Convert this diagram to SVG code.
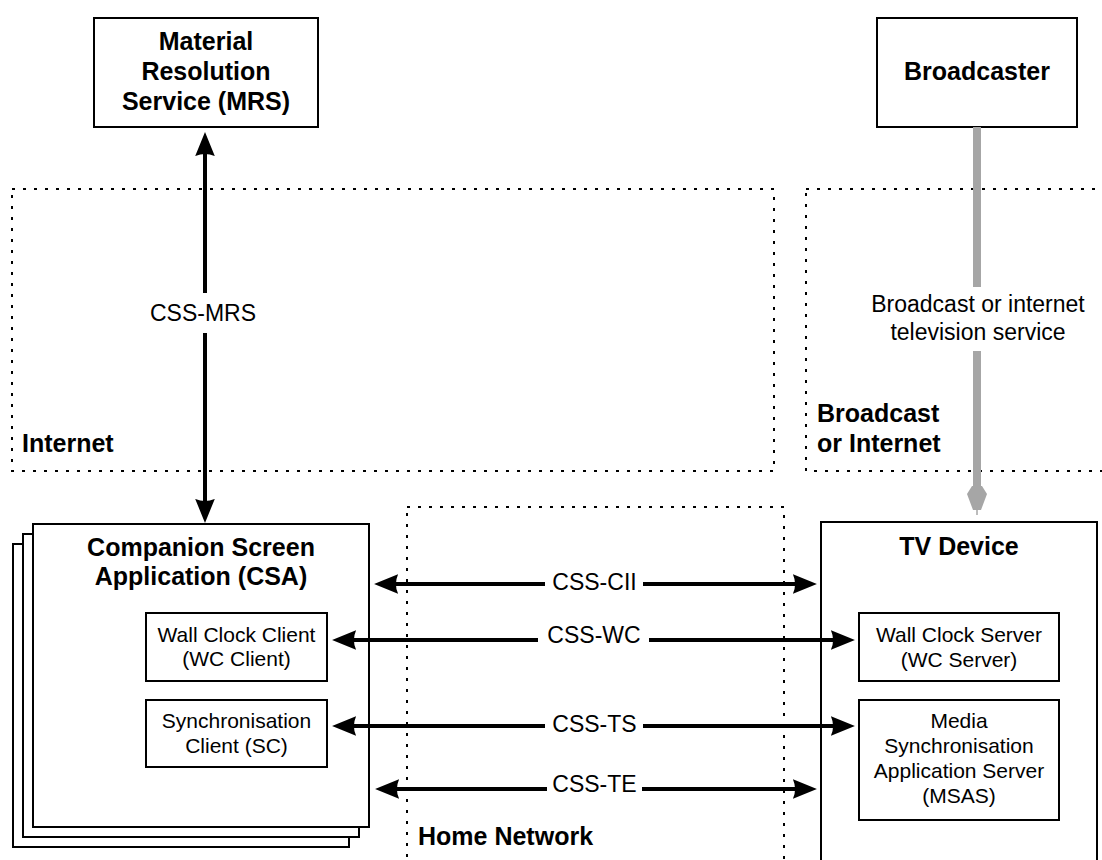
<svg xmlns="http://www.w3.org/2000/svg" width="1102" height="860" viewBox="0 0 1102 860">
<style>
  .box { fill: #fff; stroke: #000; stroke-width: 2; }
  .zone { fill: none; stroke: #000; stroke-width: 2; stroke-dasharray: 3 8; }
  .t { font-family: "Liberation Sans", Arial, Helvetica, sans-serif; fill: #000; }
  .title { font-size: 25px; font-weight: bold; }
  .small { font-size: 21px; }
  .lbl { font-size: 23px; }
  .mid { text-anchor: middle; }
  .conn { stroke: #000; stroke-width: 4; fill: none; }
  .gap { fill: #fff; stroke: none; }
</style>
<defs>
  <marker id="ah" markerUnits="userSpaceOnUse" markerWidth="24" markerHeight="20" viewBox="0 0 22 18" refX="12" refY="9" orient="auto-start-reverse">
    <path d="M0,0 L22,9 L0,18 Q4,9 0,0 z" fill="#000"/>
  </marker>
</defs>

<g id="zones">
  <rect id="zone-internet" class="zone" x="12" y="189" width="762" height="282"/>
  <rect id="zone-broadcast" class="zone" x="806" y="189" width="310" height="282"/>
  <rect id="zone-home" class="zone" x="407" y="507" width="377" height="370"/>
  <text class="t title" x="22" y="452">Internet</text>
  <text class="t title" x="817" y="422">Broadcast</text>
  <text class="t title" x="817" y="452">or Internet</text>
  <text class="t title" x="418" y="845">Home Network</text>
</g>

<g id="node-mrs">
  <rect class="box" x="94" y="18" width="224" height="109"/>
  <text class="t title mid" x="206" y="50">Material</text>
  <text class="t title mid" x="206" y="80">Resolution</text>
  <text class="t title mid" x="206" y="110">Service (MRS)</text>
</g>

<g id="node-broadcaster">
  <rect class="box" x="877" y="18" width="200" height="109"/>
  <text class="t title mid" x="977" y="80">Broadcaster</text>
</g>

<g id="node-csa">
  <rect class="box" x="13" y="544" width="336" height="303"/>
  <rect class="box" x="23" y="534" width="336" height="303"/>
  <rect class="box" x="33" y="524" width="336" height="303"/>
  <text class="t title mid" x="201" y="556">Companion Screen</text>
  <text class="t title mid" x="201" y="585">Application (CSA)</text>
</g>

<g id="node-wc-client">
  <rect class="box" x="146" y="613" width="181" height="68"/>
  <text class="t small mid" x="236.5" y="642">Wall Clock Client</text>
  <text class="t small mid" x="236.5" y="666">(WC Client)</text>
</g>

<g id="node-sc">
  <rect class="box" x="146" y="700" width="181" height="67"/>
  <text class="t small mid" x="236.5" y="728">Synchronisation</text>
  <text class="t small mid" x="236.5" y="753">Client (SC)</text>
</g>

<g id="node-tv">
  <rect class="box" x="821" y="522" width="276" height="360"/>
  <text class="t title mid" x="959" y="555">TV Device</text>
</g>

<g id="node-wc-server">
  <rect class="box" x="859" y="613" width="200" height="68"/>
  <text class="t small mid" x="959" y="642">Wall Clock Server</text>
  <text class="t small mid" x="959" y="667">(WC Server)</text>
</g>

<g id="node-msas">
  <rect class="box" x="859" y="700" width="200" height="120"/>
  <text class="t small mid" x="959" y="728">Media</text>
  <text class="t small mid" x="959" y="753">Synchronisation</text>
  <text class="t small mid" x="959" y="778">Application Server</text>
  <text class="t small mid" x="959" y="803">(MSAS)</text>
</g>

<g id="connectors">
  <!-- CSS-MRS -->
  <line class="conn" x1="205" y1="143" x2="205" y2="512" marker-start="url(#ah)" marker-end="url(#ah)"/>
  <rect class="gap" x="140" y="293" width="130" height="40"/>
  <text class="t lbl mid" x="203" y="321">CSS-MRS</text>

  <!-- Broadcast service -->
  <line x1="977" y1="127" x2="977" y2="490" stroke="#a6a6a6" stroke-width="8"/>
  <polygon points="972,486 982,486 987,494 981,510 973,510 967,494" fill="#a6a6a6"/>
  <line x1="977" y1="510" x2="977" y2="515" stroke="#a6a6a6" stroke-width="1.5"/>
  <rect class="gap" x="860" y="287" width="236" height="64"/>
  <text class="t lbl mid" x="978" y="312">Broadcast or internet</text>
  <text class="t lbl mid" x="978" y="340">television service</text>

  <!-- CSS-CII -->
  <line class="conn" x1="385" y1="584" x2="806" y2="584" marker-start="url(#ah)" marker-end="url(#ah)"/>
  <rect class="gap" x="545" y="570" width="98" height="26"/>
  <text class="t lbl mid" x="594.5" y="590">CSS-CII</text>

  <!-- CSS-WC -->
  <line class="conn" x1="343" y1="640" x2="844" y2="640" marker-start="url(#ah)" marker-end="url(#ah)"/>
  <rect class="gap" x="538" y="626" width="111" height="26"/>
  <text class="t lbl mid" x="594" y="643">CSS-WC</text>

  <!-- CSS-TS -->
  <line class="conn" x1="343" y1="726" x2="844" y2="726" marker-start="url(#ah)" marker-end="url(#ah)"/>
  <rect class="gap" x="545" y="712" width="98" height="26"/>
  <text class="t lbl mid" x="594.5" y="732">CSS-TS</text>

  <!-- CSS-TE -->
  <line class="conn" x1="386" y1="789" x2="806" y2="789" marker-start="url(#ah)" marker-end="url(#ah)"/>
  <rect class="gap" x="547" y="774" width="95" height="26"/>
  <text class="t lbl mid" x="594.5" y="792">CSS-TE</text>
</g>
</svg>
